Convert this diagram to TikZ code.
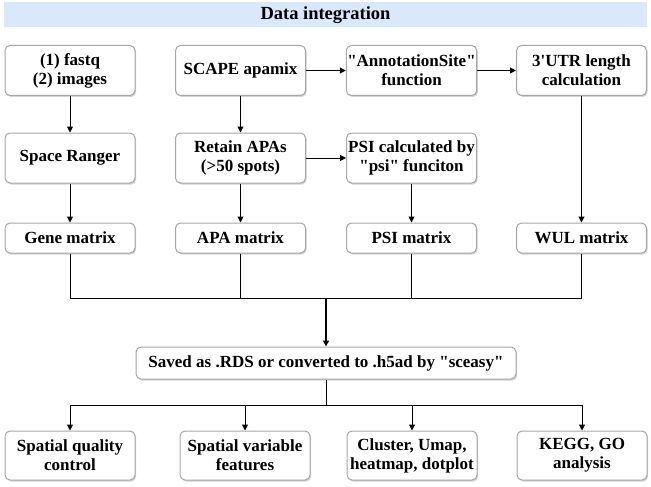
\documentclass[tikz,border=0pt]{standalone}
\usepackage{fontspec}
\setmainfont{Liberation Serif}
\usepackage{tikz}
\usetikzlibrary{arrows.meta}
\usetikzlibrary{shadows}
\usetikzlibrary{calc}
\definecolor{hdblue}{HTML}{DAE8FC}
\definecolor{bxline}{HTML}{A6A6A6}
\tikzset{bx/.style={draw=bxline, fill=white, rounded corners=5pt, minimum width=130pt,
    align=center, inner sep=1pt,
    drop shadow={shadow xshift=1.2pt, shadow yshift=-1.5pt, opacity=.35, fill=gray}}}
\tikzset{tall/.style={bx, minimum height=50pt}}
\tikzset{flat/.style={bx, minimum height=30pt}}
\newcommand{\dq}{\textquotedbl}

\begin{document}
\begin{tikzpicture}[x=1pt, y=-1pt, line width=1pt, >={Triangle[length=6pt,width=6pt]},
    font=\bfseries\fontsize{17}{19}\selectfont]
        \useasboundingbox (0,0) rectangle (651,487);
        \node [fill=hdblue, minimum width=643pt, minimum height=25pt, inner sep=0pt,
          font=\bfseries\fontsize{18.5}{18.5}\selectfont] (title) at (325.5,15) {Data integration};
        % first row
        \node [tall] (fastq) at (70,70.5) {(1) fastq\\(2) images};
        \node [tall] (scape) at (240.5,70.5) {SCAPE apamix};
        \node [tall] (annot) at (411.5,70.5) {\dq AnnotationSite\dq\\function}
          edge [<-] (scape);
        \node [tall] (utr) at (581.5,70.5) {3\textquotesingle UTR length\\calculation}
          edge [<-] (annot);
        % second row
        \node [tall] (ranger) at (70,158) {Space Ranger}
          edge [<-] (fastq);
        \node [tall] (retain) at (240.5,158) {Retain APAs\\(>50 spots)}
          edge [<-] (scape);
        \node [tall] (psicalc) at (411.5,158) {PSI calculated by\\\dq psi\dq{} funciton}
          edge [<-] (retain);
        % matrices
        \node [flat] (gene) at (70,238) {Gene matrix}
          edge [<-] (ranger);
        \node [flat] (apa) at (240.5,238) {APA matrix}
          edge [<-] (retain);
        \node [flat] (psi) at (411.5,238) {PSI matrix}
          edge [<-] (psicalc);
        \node [flat] (wul) at (581.5,238) {WUL matrix}
          edge [<-] (utr);
        \coordinate (join) at (326,298);
        \draw (gene) -- (gene |- join) -| (wul);
        \draw (apa) -- (apa |- join);
        \draw (psi) -- (psi |- join);
        % saved object
        \node [bx, minimum width=380pt, minimum height=32pt] (saved) at (326,363)
          {Saved as .RDS or converted to .h5ad by \dq sceasy\dq};
        \draw [->, line width=2pt] (join) -- (saved);
        % downstream analysis
        \coordinate (split) at (326,405);
        \node [tall, minimum height=49pt] (qc) at (70,455.5) {Spatial quality\\control};
        \node [tall, minimum height=49pt] (svf) at (245,455.5) {Spatial variable\\features};
        \node [tall, minimum height=49pt] (clust) at (412,455.5) {Cluster, Umap,\\heatmap, dotplot};
        \node [tall, minimum height=49pt] (kegg) at (582,455.5) {KEGG, GO\\analysis};
        \draw (saved) -- (split);
        \foreach \n in {qc,svf,clust,kegg}
          \draw [->] (split) -| (\n);
\end{tikzpicture}
\end{document}
